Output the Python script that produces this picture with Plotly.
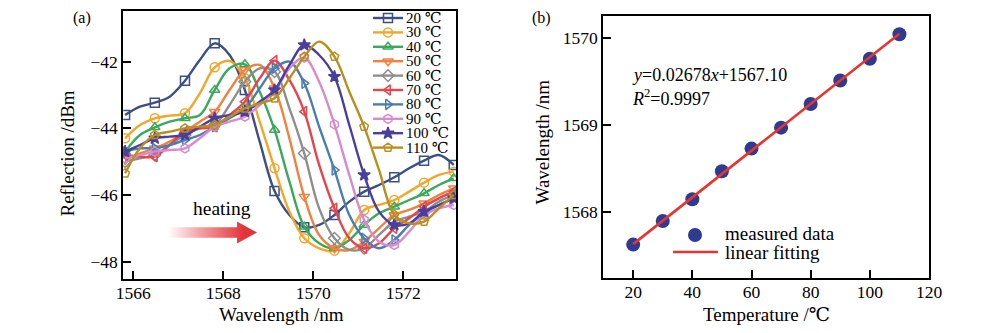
import plotly.graph_objects as go

FONT = "Liberation Serif, Times New Roman, DejaVu Serif, serif"

# ---------------- data: panel (a) ----------------
wavelength_nm = [1565.82, 1566.15, 1566.48, 1566.81, 1567.15, 1567.48, 1567.81, 1568.14,
                 1568.48, 1568.81, 1569.14, 1569.47, 1569.80, 1570.13, 1570.47, 1570.80,
                 1571.13, 1571.46, 1571.80, 1572.13, 1572.46, 1572.79, 1573.12]

temps_a = [20, 30, 40, 50, 60, 70, 80, 90, 100, 110]

refl_20 = [-43.6, -43.35, -43.23, -43.05, -42.57, -41.95, -41.45, -41.8, -42.85, -44.4, -45.88, -46.6,
           -46.97, -46.9, -46.6, -46.2, -45.9, -45.7, -45.47, -45.2, -44.97, -44.8, -45.1]
refl_30 = [-44.3, -43.9, -43.7, -43.62, -43.55, -42.95, -42.17, -41.98, -42.5, -43.8, -45.2, -46.5,
           -47.3, -47.6, -47.67, -47.15, -46.45, -46.3, -46.15, -45.9, -45.63, -45.4, -45.3]
refl_40 = [-44.7, -44.2, -43.97, -43.8, -43.7, -43.6, -42.85, -42.2, -42.08, -42.9, -44.05, -45.6,
           -46.95, -47.45, -47.6, -47.35, -46.9, -46.55, -46.35, -46.15, -45.95, -45.7, -45.5]
refl_50 = [-44.95, -44.75, -44.6, -44.4, -44.1, -43.8, -43.5, -42.85, -42.25, -42.1, -42.8, -44.3,
           -46.05, -47.2, -47.6, -47.65, -47.4, -47.0, -46.6, -46.45, -46.25, -46.0, -45.8]
refl_60 = [-45.0, -44.9, -44.8, -44.5, -44.2, -44.0, -43.9, -43.3, -42.6, -42.2, -42.3, -43.4,
           -44.75, -46.4, -47.3, -47.65, -47.6, -47.2, -46.8, -46.65, -46.5, -46.2, -46.0]
refl_70 = [-44.8, -44.85, -44.85, -44.5, -44.1, -44.0, -43.95, -43.6, -43.2, -42.5, -41.97, -42.55,
           -43.5, -45.1, -46.4, -47.3, -47.6, -47.45, -47.0, -46.7, -46.35, -46.1, -45.9]
refl_80 = [-44.7, -44.6, -44.6, -44.5, -44.35, -44.2, -43.95, -43.7, -43.4, -42.8, -42.2, -42.0,
           -42.65, -43.95, -45.25, -46.6, -47.3, -47.6, -47.35, -46.9, -46.55, -46.3, -46.1]
refl_90 = [-44.9, -44.8, -44.7, -44.65, -44.6, -44.3, -43.95, -43.8, -43.65, -43.3, -42.9, -42.2,
           -41.88, -42.6, -43.88, -45.4, -46.75, -47.4, -47.5, -47.1, -46.6, -46.4, -46.3]
refl_100 = [-44.7, -44.5, -44.3, -44.25, -44.2, -43.95, -43.7, -43.6, -43.5, -43.2, -42.85, -42.1,
            -41.5, -41.8, -42.45, -43.9, -45.4, -46.5, -46.9, -46.85, -46.5, -46.3, -46.1]
refl_110 = [-45.35, -44.6, -44.2, -44.1, -44.0, -43.95, -43.9, -43.65, -43.4, -43.25, -43.1, -42.5,
            -41.85, -41.4, -41.85, -42.9, -43.95, -45.25, -46.6, -46.85, -46.8, -46.4, -46.0]

reflections = [refl_20, refl_30, refl_40, refl_50, refl_60, refl_70, refl_80, refl_90, refl_100, refl_110]

# ---------------- data: panel (b) ----------------
temperature_c = [20, 30, 40, 50, 60, 70, 80, 90, 100, 110]
peak_wavelength_nm = [1567.63, 1567.90, 1568.15, 1568.47, 1568.73, 1568.97, 1569.24, 1569.51, 1569.76, 1570.04]
fit_slope = 0.02678
fit_intercept = 1567.10
r_squared = 0.9997

# ---------------- styles ----------------
colors = ["#3D5086", "#F4A62A", "#3BA95A", "#F2803F", "#8E8E8E",
          "#E8444C", "#4A7DB0", "#D58BD0", "#4B3F9E", "#BA8F1E"]
symbols = ["square-open", "circle-open", "triangle-up-open", "triangle-down-open", "diamond-open",
           "triangle-left-open", "triangle-right-open", "hexagon-open", "star", "pentagon-open"]
dot_color = "#2E3B8E"
fit_color = "#E8342F"
arrow_rgb = "228,52,58"

# page geometry: the browser adds an 8 px body margin around the figure
PAGE_W, PAGE_H, BODY = 1000, 333, 8
FIG_W, FIG_H = PAGE_W - 2 * BODY, PAGE_H - 2 * BODY


def dom_x(p0, p1):
    return [(p0 - BODY) / FIG_W, (p1 - BODY) / FIG_W]


def dom_y(top, bottom):
    return [(PAGE_H - BODY - bottom) / FIG_H, (PAGE_H - BODY - top) / FIG_H]


fig = go.Figure()

# panel (a) curves
for t, refl, c, s in zip(temps_a, reflections, colors, symbols):
    fig.add_trace(go.Scatter(x=wavelength_nm, y=refl, mode="lines", line=dict(color=c, width=2.4, shape="spline", smoothing=1.0),
                             xaxis="x", yaxis="y", showlegend=False, hoverinfo="skip"))
    fig.add_trace(go.Scatter(x=wavelength_nm[::2], y=refl[::2], mode="markers",
                             marker=dict(symbol=s, size=9, color=c, line=dict(color=c, width=1.5)),
                             xaxis="x", yaxis="y", showlegend=False, name=f"{t} ℃"))

# panel (b)
fit_x = [temperature_c[0], temperature_c[-1]]
fit_y = [fit_slope * v + fit_intercept for v in fit_x]
fig.add_trace(go.Scatter(x=temperature_c, y=peak_wavelength_nm, mode="markers",
                         marker=dict(symbol="circle", size=14, color=dot_color),
                         xaxis="x2", yaxis="y2", showlegend=False))
fig.add_trace(go.Scatter(x=fit_x, y=fit_y, mode="lines", line=dict(color=fit_color, width=2.6),
                         xaxis="x2", yaxis="y2", showlegend=False))

# ---------------- overlay (page-pixel) layer: legends, arrow, labels ----------------
LEG_A_X0, LEG_A_X1, LEG_A_Y0, LEG_A_DY = 373, 403, 18, 14.4
annotations = []
for i, (t, c, s) in enumerate(zip(temps_a, colors, symbols)):
    yy = LEG_A_Y0 + i * LEG_A_DY
    fig.add_trace(go.Scatter(x=[LEG_A_X0, LEG_A_X1], y=[yy, yy], mode="lines", line=dict(color=c, width=2.4),
                             xaxis="x3", yaxis="y3", showlegend=False, cliponaxis=False, hoverinfo="skip"))
    fig.add_trace(go.Scatter(x=[(LEG_A_X0 + LEG_A_X1) / 2], y=[yy], mode="markers",
                             marker=dict(symbol=s, size=9, color=c, line=dict(color=c, width=1.5)),
                             xaxis="x3", yaxis="y3", showlegend=False, cliponaxis=False, hoverinfo="skip"))
    annotations.append(dict(x=LEG_A_X1 + 2, y=yy, xref="x3", yref="y3", text=f"{t} ℃", showarrow=False,
                            xanchor="left", yanchor="middle", borderpad=0,
                            font=dict(family=FONT, size=15, color="black")))

# legend of panel (b)
LEG_B_MX, LEG_B_MY = 695, 235
LEG_B_LX0, LEG_B_LX1, LEG_B_LY = 673, 718, 252
LEG_B_TX = 724
fig.add_trace(go.Scatter(x=[LEG_B_MX], y=[LEG_B_MY], mode="markers", marker=dict(symbol="circle", size=14, color=dot_color),
                         xaxis="x3", yaxis="y3", showlegend=False, cliponaxis=False, hoverinfo="skip"))
fig.add_trace(go.Scatter(x=[LEG_B_LX0, LEG_B_LX1], y=[LEG_B_LY, LEG_B_LY], mode="lines", line=dict(color=fit_color, width=2.6),
                         xaxis="x3", yaxis="y3", showlegend=False, cliponaxis=False, hoverinfo="skip"))
annotations.append(dict(x=LEG_B_TX, y=233, xref="x3", yref="y3", text="measured data", showarrow=False,
                        xanchor="left", yanchor="middle", borderpad=0, font=dict(family=FONT, size=19, color="black")))
annotations.append(dict(x=LEG_B_TX, y=252, xref="x3", yref="y3", text="linear fitting", showarrow=False,
                        xanchor="left", yanchor="middle", borderpad=0, font=dict(family=FONT, size=19, color="black")))

# heating arrow (gradient)
AR_X0, AR_XH, AR_XT = 168, 237, 257
AR_YC, AR_BH, AR_HH = 232.5, 5.2, 11
arrow_x = [AR_X0, AR_XH, AR_XH, AR_XT, AR_XH, AR_XH, AR_X0, AR_X0]
arrow_y = [AR_YC - AR_BH, AR_YC - AR_BH, AR_YC - AR_HH, AR_YC, AR_YC + AR_HH, AR_YC + AR_BH, AR_YC + AR_BH, AR_YC - AR_BH]
fig.add_trace(go.Scatter(x=arrow_x, y=arrow_y, mode="lines", fill="toself", line=dict(width=0, color="rgba(0,0,0,0)"),
                         fillgradient=dict(type="horizontal",
                                           colorscale=[[0, f"rgba({arrow_rgb},0)"], [0.35, f"rgba({arrow_rgb},0.45)"],
                                                       [0.85, f"rgba({arrow_rgb},1)"], [1, f"rgba({arrow_rgb},1)"]]),
                         xaxis="x3", yaxis="y3", showlegend=False, cliponaxis=False, hoverinfo="skip"))


def txt(x, y, text, size, angle=0, xanchor="center"):
    annotations.append(dict(x=x, y=y, xref="x3", yref="y3", text=text, showarrow=False, textangle=angle,
                            xanchor=xanchor, yanchor="middle", borderpad=0,
                            font=dict(family=FONT, size=size, color="black")))


txt(82, 17.5, "(a)", 16)
txt(541.7, 17.5, "(b)", 16)
txt(281, 314, "Wavelength /nm", 19)
txt(66.5, 154, "Reflection /dBm", 19, -90)
txt(766.7, 314, "Temperature /℃", 19)
txt(541.5, 142, "Wavelength /nm", 19, -90)
txt(221.7, 208, "heating", 19.5)
txt(631, 75, f"<i>y</i>={fit_slope}<i>x</i>+{fit_intercept:.2f}", 18, xanchor="left")
txt(631, 97, f"<i>R</i><sup>2</sup>={r_squared}", 18, xanchor="left")

axis_common = dict(showline=True, mirror=True, linecolor="black", linewidth=2, ticks="inside", ticklen=8,
                   tickwidth=2, tickcolor="black", showgrid=False, zeroline=False, automargin=False,
                   tickfont=dict(family=FONT, size=17.5, color="black"))

fig.update_layout(
    template="none",
    width=FIG_W, height=FIG_H, margin=dict(l=0, r=0, t=0, b=0, pad=0),
    paper_bgcolor="white", plot_bgcolor="rgba(0,0,0,0)",
    showlegend=False,
    xaxis=dict(domain=dom_x(123.3, 456), range=[1565.78, 1573.17], tickvals=[1566, 1568, 1570, 1572],
               anchor="y", ticklabelstandoff=-3, **axis_common),
    yaxis=dict(domain=dom_y(11, 279.3), range=[-48.53, -40.48], tickvals=[-48, -46, -44, -42],
               anchor="x", **axis_common),
    xaxis2=dict(domain=dom_x(603.3, 929), range=[9.9, 120.0], tickvals=[20, 40, 60, 80, 100, 120],
                anchor="y2", ticklabelstandoff=-3, **axis_common),
    yaxis2=dict(domain=dom_y(16, 278.3), range=[1567.244, 1570.249], tickvals=[1568, 1569, 1570],
                anchor="x2", **axis_common),
    xaxis3=dict(domain=[0, 1], range=[BODY, BODY + FIG_W], visible=False, fixedrange=True, anchor="y3", automargin=False),
    yaxis3=dict(domain=[0, 1], range=[BODY + FIG_H, BODY], visible=False, fixedrange=True, anchor="x3", automargin=False),
    annotations=annotations,
)

fig.write_html("out.html")
